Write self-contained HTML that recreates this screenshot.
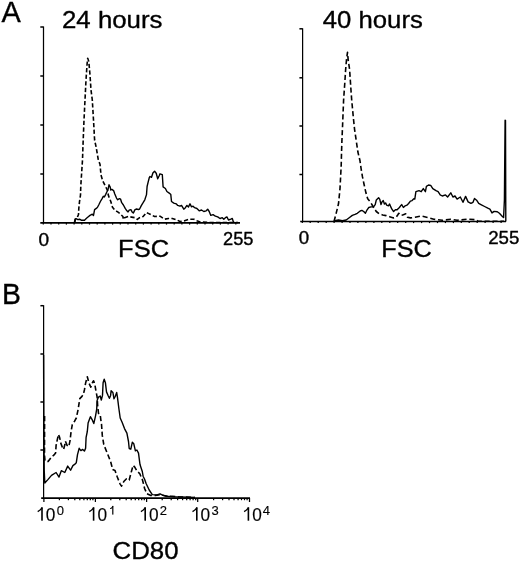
<!DOCTYPE html>
<html><head><meta charset="utf-8"><style>
html,body{margin:0;padding:0;background:#fff;width:520px;height:561px;overflow:hidden}
svg{display:block;will-change:transform}
text{font-family:"Liberation Sans",sans-serif;fill:#000;stroke:#000;stroke-width:0.35;stroke-linejoin:round}
text.sm{stroke-width:0.15}
.ax{stroke:#000;stroke-width:1.25;fill:none}
.sol{stroke:#000;stroke-width:1.4;fill:none;stroke-linejoin:round}
.dash{stroke:#000;stroke-width:1.6;fill:none;stroke-dasharray:4.3 2.3;stroke-linejoin:round}
</style></head><body>
<svg width="520" height="561" viewBox="0 0 520 561">
<line x1="43.5" y1="26.5" x2="43.5" y2="223" class="ax"/><line x1="40.3" y1="27" x2="43.5" y2="27" class="ax" style="stroke-width:1.5"/><line x1="40.3" y1="76" x2="43.5" y2="76" class="ax" style="stroke-width:1.5"/><line x1="40.3" y1="125" x2="43.5" y2="125" class="ax" style="stroke-width:1.5"/><line x1="40.3" y1="174" x2="43.5" y2="174" class="ax" style="stroke-width:1.5"/>
<line x1="40.3" y1="222.8" x2="240" y2="222.8" class="ax" style="stroke-width:1.75"/>
<line x1="302.6" y1="28.3" x2="302.6" y2="221.5" class="ax"/><line x1="299.40000000000003" y1="28.8" x2="302.6" y2="28.8" class="ax" style="stroke-width:1.5"/><line x1="299.40000000000003" y1="77.8" x2="302.6" y2="77.8" class="ax" style="stroke-width:1.5"/><line x1="299.40000000000003" y1="126" x2="302.6" y2="126" class="ax" style="stroke-width:1.5"/><line x1="299.40000000000003" y1="174.5" x2="302.6" y2="174.5" class="ax" style="stroke-width:1.5"/>
<line x1="300.2" y1="221.45" x2="506" y2="221.45" class="ax" style="stroke-width:1.6"/>
<line x1="43.6" y1="305.2" x2="43.6" y2="498.5" class="ax"/><line x1="40.4" y1="305.7" x2="43.6" y2="305.7" class="ax" style="stroke-width:1.5"/><line x1="40.4" y1="354" x2="43.6" y2="354" class="ax" style="stroke-width:1.5"/><line x1="40.4" y1="402" x2="43.6" y2="402" class="ax" style="stroke-width:1.5"/><line x1="40.4" y1="450" x2="43.6" y2="450" class="ax" style="stroke-width:1.5"/>
<line x1="41.2" y1="498.1" x2="250" y2="498.1" class="ax" style="stroke-width:1.6"/>
<line x1="43.9" y1="498" x2="43.9" y2="502" class="ax"/>
<line x1="95.4" y1="498" x2="95.4" y2="502" class="ax"/>
<line x1="146.6" y1="498" x2="146.6" y2="502" class="ax"/>
<line x1="197.7" y1="498" x2="197.7" y2="502" class="ax"/>
<line x1="249.5" y1="498" x2="249.5" y2="502" class="ax"/>
<line x1="43.3" y1="223" x2="43.3" y2="224.6" class="ax"/>
<line x1="51.0" y1="223" x2="51.0" y2="224.6" class="ax"/>
<line x1="58.7" y1="223" x2="58.7" y2="224.6" class="ax"/>
<line x1="66.4" y1="223" x2="66.4" y2="224.6" class="ax"/>
<line x1="74.1" y1="223" x2="74.1" y2="224.6" class="ax"/>
<line x1="81.8" y1="223" x2="81.8" y2="224.6" class="ax"/>
<line x1="89.5" y1="223" x2="89.5" y2="224.6" class="ax"/>
<line x1="97.2" y1="223" x2="97.2" y2="224.6" class="ax"/>
<line x1="104.9" y1="223" x2="104.9" y2="224.6" class="ax"/>
<line x1="112.6" y1="223" x2="112.6" y2="224.6" class="ax"/>
<line x1="120.3" y1="223" x2="120.3" y2="224.6" class="ax"/>
<line x1="128.0" y1="223" x2="128.0" y2="224.6" class="ax"/>
<line x1="135.7" y1="223" x2="135.7" y2="224.6" class="ax"/>
<line x1="143.4" y1="223" x2="143.4" y2="224.6" class="ax"/>
<line x1="151.1" y1="223" x2="151.1" y2="224.6" class="ax"/>
<line x1="158.8" y1="223" x2="158.8" y2="224.6" class="ax"/>
<line x1="166.5" y1="223" x2="166.5" y2="224.6" class="ax"/>
<line x1="174.2" y1="223" x2="174.2" y2="224.6" class="ax"/>
<line x1="181.9" y1="223" x2="181.9" y2="224.6" class="ax"/>
<line x1="189.6" y1="223" x2="189.6" y2="224.6" class="ax"/>
<line x1="197.3" y1="223" x2="197.3" y2="224.6" class="ax"/>
<line x1="205.0" y1="223" x2="205.0" y2="224.6" class="ax"/>
<line x1="212.7" y1="223" x2="212.7" y2="224.6" class="ax"/>
<line x1="220.4" y1="223" x2="220.4" y2="224.6" class="ax"/>
<line x1="228.1" y1="223" x2="228.1" y2="224.6" class="ax"/>
<line x1="235.8" y1="223" x2="235.8" y2="224.6" class="ax"/>
<line x1="302.3" y1="221.5" x2="302.3" y2="223.1" class="ax"/>
<line x1="310.2" y1="221.5" x2="310.2" y2="223.1" class="ax"/>
<line x1="318.2" y1="221.5" x2="318.2" y2="223.1" class="ax"/>
<line x1="326.2" y1="221.5" x2="326.2" y2="223.1" class="ax"/>
<line x1="334.1" y1="221.5" x2="334.1" y2="223.1" class="ax"/>
<line x1="342.1" y1="221.5" x2="342.1" y2="223.1" class="ax"/>
<line x1="350.0" y1="221.5" x2="350.0" y2="223.1" class="ax"/>
<line x1="357.9" y1="221.5" x2="357.9" y2="223.1" class="ax"/>
<line x1="365.9" y1="221.5" x2="365.9" y2="223.1" class="ax"/>
<line x1="373.9" y1="221.5" x2="373.9" y2="223.1" class="ax"/>
<line x1="381.8" y1="221.5" x2="381.8" y2="223.1" class="ax"/>
<line x1="389.8" y1="221.5" x2="389.8" y2="223.1" class="ax"/>
<line x1="397.7" y1="221.5" x2="397.7" y2="223.1" class="ax"/>
<line x1="405.7" y1="221.5" x2="405.7" y2="223.1" class="ax"/>
<line x1="413.6" y1="221.5" x2="413.6" y2="223.1" class="ax"/>
<line x1="421.6" y1="221.5" x2="421.6" y2="223.1" class="ax"/>
<line x1="429.5" y1="221.5" x2="429.5" y2="223.1" class="ax"/>
<line x1="437.5" y1="221.5" x2="437.5" y2="223.1" class="ax"/>
<line x1="445.4" y1="221.5" x2="445.4" y2="223.1" class="ax"/>
<line x1="453.4" y1="221.5" x2="453.4" y2="223.1" class="ax"/>
<line x1="461.3" y1="221.5" x2="461.3" y2="223.1" class="ax"/>
<line x1="469.2" y1="221.5" x2="469.2" y2="223.1" class="ax"/>
<line x1="477.2" y1="221.5" x2="477.2" y2="223.1" class="ax"/>
<line x1="485.1" y1="221.5" x2="485.1" y2="223.1" class="ax"/>
<line x1="493.1" y1="221.5" x2="493.1" y2="223.1" class="ax"/>
<line x1="501.1" y1="221.5" x2="501.1" y2="223.1" class="ax"/>
<line x1="59.4" y1="498.5" x2="59.4" y2="500.2" class="ax"/>
<line x1="68.4" y1="498.5" x2="68.4" y2="500.2" class="ax"/>
<line x1="74.8" y1="498.5" x2="74.8" y2="500.2" class="ax"/>
<line x1="79.8" y1="498.5" x2="79.8" y2="500.2" class="ax"/>
<line x1="83.9" y1="498.5" x2="83.9" y2="500.2" class="ax"/>
<line x1="87.3" y1="498.5" x2="87.3" y2="500.2" class="ax"/>
<line x1="90.3" y1="498.5" x2="90.3" y2="500.2" class="ax"/>
<line x1="92.9" y1="498.5" x2="92.9" y2="500.2" class="ax"/>
<line x1="110.8" y1="498.5" x2="110.8" y2="500.2" class="ax"/>
<line x1="119.8" y1="498.5" x2="119.8" y2="500.2" class="ax"/>
<line x1="126.2" y1="498.5" x2="126.2" y2="500.2" class="ax"/>
<line x1="131.2" y1="498.5" x2="131.2" y2="500.2" class="ax"/>
<line x1="135.3" y1="498.5" x2="135.3" y2="500.2" class="ax"/>
<line x1="138.7" y1="498.5" x2="138.7" y2="500.2" class="ax"/>
<line x1="141.7" y1="498.5" x2="141.7" y2="500.2" class="ax"/>
<line x1="144.3" y1="498.5" x2="144.3" y2="500.2" class="ax"/>
<line x1="162.2" y1="498.5" x2="162.2" y2="500.2" class="ax"/>
<line x1="171.2" y1="498.5" x2="171.2" y2="500.2" class="ax"/>
<line x1="177.6" y1="498.5" x2="177.6" y2="500.2" class="ax"/>
<line x1="182.6" y1="498.5" x2="182.6" y2="500.2" class="ax"/>
<line x1="186.7" y1="498.5" x2="186.7" y2="500.2" class="ax"/>
<line x1="190.1" y1="498.5" x2="190.1" y2="500.2" class="ax"/>
<line x1="193.1" y1="498.5" x2="193.1" y2="500.2" class="ax"/>
<line x1="195.7" y1="498.5" x2="195.7" y2="500.2" class="ax"/>
<line x1="213.6" y1="498.5" x2="213.6" y2="500.2" class="ax"/>
<line x1="222.6" y1="498.5" x2="222.6" y2="500.2" class="ax"/>
<line x1="229.0" y1="498.5" x2="229.0" y2="500.2" class="ax"/>
<line x1="234.0" y1="498.5" x2="234.0" y2="500.2" class="ax"/>
<line x1="238.1" y1="498.5" x2="238.1" y2="500.2" class="ax"/>
<line x1="241.5" y1="498.5" x2="241.5" y2="500.2" class="ax"/>
<line x1="244.5" y1="498.5" x2="244.5" y2="500.2" class="ax"/>
<line x1="247.1" y1="498.5" x2="247.1" y2="500.2" class="ax"/>
<polyline points="74.4,222.6 75.1,221.2 75.4,219.2 76.1,218.2 77.4,217.2 78.5,214.5 78.8,208.5 79.5,201.7 80.5,195.0 80.8,186.0 81.5,175.0 82.5,160.0 83.0,145.0 84.0,120.0 85.0,100.0 86.0,80.0 87.1,63.8 87.7,58.3 88.8,61.5 90.0,75.0 91.0,90.0 92.3,100.0 93.5,120.0 94.6,140.0 96.3,148.0 98.3,160.0 100.0,164.2 101.0,175.0 102.7,180.8 105.0,185.4 107.3,190.0 108.5,195.8 110.8,201.5 112.5,207.3 114.8,210.2 117.7,211.9 120.0,213.6 122.9,216.5 123.4,219.4 124.6,217.7 128.1,216.5 131.5,217.1 135.0,217.7 137.3,219.4 139.6,217.7 143.1,216.5 146.5,212.5 148.8,213.6 150.0,214.2 154.6,216.5 160.0,216.2 164.6,219.2 168.5,218.5 172.3,218.5 176.9,220.0 180.0,221.5 184.6,220.8 189.2,219.2 193.8,219.2 196.9,220.8 200.0,222.0 210.0,222.5 238.0,222.5" class="dash"/>
<polyline points="74.4,222.5 75.1,219.2 76.1,218.6 77.8,219.6 79.5,219.2 81.2,220.2 82.8,220.2 84.5,220.2 86.5,218.2 88.6,216.5 90.0,215.4 92.3,214.2 93.5,215.4 94.6,209.6 96.3,208.4 97.5,207.3 98.7,205.0 100.4,201.5 102.1,198.6 103.3,196.3 104.4,196.9 105.6,194.6 106.7,192.3 107.9,190.0 109.0,184.8 110.2,187.1 110.8,190.0 111.9,189.4 113.6,190.6 114.8,194.0 116.5,198.1 117.7,199.8 119.4,198.6 120.6,199.2 121.7,202.7 123.4,205.0 125.2,208.4 126.9,210.8 128.1,211.9 129.2,210.2 130.9,209.6 132.1,211.9 133.3,213.1 135.0,209.6 136.7,209.0 138.4,209.6 139.6,209.0 141.3,205.6 143.1,202.7 144.8,199.8 146.5,194.6 147.1,186.5 148.2,181.9 149.4,177.3 150.0,176.5 151.5,177.3 153.0,172.7 154.6,171.2 156.2,173.2 157.7,178.8 159.2,175.8 160.0,173.8 162.3,174.6 163.1,186.9 165.4,188.5 166.9,191.5 169.2,193.1 170.8,194.6 171.5,201.5 173.8,203.1 176.2,203.8 177.7,205.4 180.0,206.2 181.5,205.4 183.8,209.2 185.4,207.7 186.9,205.4 188.5,206.9 190.0,203.8 191.5,206.9 193.1,206.2 194.6,207.7 196.9,208.5 199.2,210.8 201.5,210.0 203.8,211.5 206.2,210.8 207.7,209.2 209.2,211.5 210.8,215.4 213.1,214.6 215.4,216.2 217.7,216.9 220.0,218.5 222.3,217.7 223.8,219.2 225.4,217.7 226.9,216.9 228.5,220.0 230.8,219.2 232.3,218.5 233.5,222.3 235.0,222.6" class="sol"/>
<polyline points="333.8,221.3 334.2,220.8 336.2,213.1 338.5,203.8 340.0,188.5 341.2,165.4 341.5,153.8 341.9,141.1 342.5,127.3 343.1,112.3 343.6,100.0 344.3,90.0 344.8,83.0 345.6,70.0 346.6,58.5 347.5,52.3 348.2,60.0 349.6,69.5 350.3,80.0 351.1,91.9 351.7,100.0 352.3,106.5 353.4,118.1 354.6,129.6 356.3,141.1 357.9,152.0 360.0,160.8 361.3,170.0 362.5,176.9 364.2,185.0 366.0,193.1 367.7,198.8 370.6,202.3 374.0,208.1 376.3,211.5 379.2,213.8 382.7,215.0 386.1,215.6 389.6,216.7 393.6,217.9 396.0,217.3 397.7,215.0 398.8,213.3 401.1,215.6 404.0,214.4 405.7,213.8 407.5,217.3 410.4,217.9 415.0,217.3 421.2,216.0 427.5,217.5 433.8,219.2 442.3,220.3 450.8,219.2 457.1,220.3 467.7,219.2 476.2,219.7 478.3,221.3 504.0,221.3" class="dash" style="stroke-dasharray:5.1 2.8"/>
<polyline points="334.6,220.8 338.5,220.0 342.3,220.8 346.2,220.0 349.2,217.7 352.3,215.4 355.0,214.4 357.3,213.3 360.2,211.0 361.9,210.4 363.7,211.5 365.4,213.3 367.1,209.8 368.8,207.5 371.1,206.9 373.5,206.9 375.2,204.6 376.3,200.0 378.6,197.7 379.8,199.4 381.0,204.6 382.1,201.7 383.3,200.6 384.4,204.0 385.6,202.9 386.7,205.2 388.4,205.8 389.6,204.0 390.8,206.9 391.9,209.2 393.6,211.5 395.4,209.8 397.1,209.8 399.4,207.5 400.6,205.8 401.7,204.6 403.4,207.5 405.2,205.8 406.9,205.2 408.6,203.5 410.4,201.1 412.1,200.6 413.8,198.8 414.8,199.1 415.9,191.7 419.0,190.7 421.2,191.7 423.3,188.6 425.4,191.7 426.4,186.4 428.6,185.0 430.7,185.4 432.8,188.6 436.0,190.7 438.1,191.7 440.2,194.9 442.3,196.0 445.5,194.9 447.6,197.0 450.8,192.8 452.9,197.0 455.0,196.0 457.1,199.1 460.3,197.0 463.0,202.3 465.6,196.4 468.1,201.9 470.9,203.4 473.0,202.3 474.5,198.5 476.6,200.2 478.7,203.4 481.4,204.8 484.6,206.5 487.8,208.2 489.9,209.1 492.0,212.9 494.1,211.4 497.3,211.8 499.4,213.3 502.6,216.7 503.6,217.6 504.4,200.0 505.1,120.3 505.5,120.5 505.8,221.5" class="sol"/>
<polyline points="44.6,416.0 44.5,455.0 45.0,461.0 48.1,461.5 51.5,456.9 53.8,455.2 55.6,452.9 56.1,445.4 57.3,439.6 58.5,434.4 59.6,437.3 60.8,443.1 62.5,447.7 63.6,449.4 64.8,444.8 65.4,441.3 67.1,445.4 68.8,446.5 70.0,440.8 71.1,431.5 72.3,424.6 74.6,421.2 76.3,418.0 78.1,409.6 79.8,398.6 81.5,396.9 83.3,394.6 84.4,390.0 85.6,383.1 87.3,376.7 89.0,383.1 90.8,387.1 92.5,382.5 93.6,380.8 94.8,384.2 95.9,390.6 97.1,396.9 97.6,405.0 98.5,413.3 100.2,414.4 100.8,419.6 101.5,424.0 102.3,435.4 103.8,444.6 106.9,452.3 108.5,456.2 110.8,462.3 112.7,469.5 115.0,470.4 117.3,477.0 120.0,483.8 121.5,486.2 123.8,481.5 126.5,478.8 129.2,480.0 131.5,471.2 133.1,465.4 134.6,466.9 136.8,470.7 139.8,473.8 142.5,480.0 144.6,488.5 146.9,493.8 150.8,495.4 155.4,495.4 161.5,494.6 166.2,496.2 172.3,496.2 178.5,496.9 195.0,497.5" class="dash" style="stroke-dasharray:5.2 2.7"/>
<polyline points="43.6,355.0 43.8,420.0 44.2,470.0 44.8,483.0 48.1,479.4 51.5,475.4 56.1,472.5 59.0,477.1 61.3,470.7 64.8,472.5 67.7,466.1 70.6,470.2 72.9,465.6 74.6,464.4 76.3,462.7 77.5,454.6 79.2,448.3 80.9,450.6 82.7,449.4 84.4,451.1 85.6,448.3 86.1,437.3 87.3,431.5 88.1,423.1 90.4,416.7 92.1,419.6 93.8,423.6 95.6,415.6 96.7,409.2 97.1,400.6 98.5,397.1 100.2,396.0 101.3,400.0 102.5,395.4 103.1,382.7 104.2,379.2 105.4,382.7 106.5,391.9 108.3,396.0 109.4,398.3 110.6,395.4 111.1,390.8 112.9,392.5 114.0,398.8 115.2,396.5 116.7,392.5 117.5,397.7 118.8,408.0 120.2,418.0 122.2,422.5 124.5,428.6 126.9,433.1 128.5,441.5 129.2,448.5 130.8,449.2 132.3,442.3 133.8,443.8 135.4,450.8 136.9,450.0 138.5,453.1 140.0,464.6 140.8,466.9 142.3,471.5 143.1,476.2 144.6,479.2 146.2,483.8 149.2,490.0 152.3,494.6 156.9,494.9 160.0,493.8 163.1,495.4 167.7,496.2 173.8,496.9 180.0,496.9 195.0,497.5" class="sol"/>
<text x="1.5" y="21.7" font-size="30.3" textLength="19.3" lengthAdjust="spacingAndGlyphs">A</text>
<text x="62" y="27.7" font-size="24" textLength="100.5" lengthAdjust="spacingAndGlyphs">24 hours</text>
<text x="322.8" y="27.7" font-size="24" textLength="100" lengthAdjust="spacingAndGlyphs">40 hours</text>
<text x="38.5" y="245.6" font-size="17.5" textLength="10.6" lengthAdjust="spacingAndGlyphs">0</text>
<text x="223" y="245.2" font-size="17.5" textLength="30.5" lengthAdjust="spacingAndGlyphs">255</text>
<text x="118.1" y="257.4" font-size="24" textLength="51" lengthAdjust="spacingAndGlyphs">FSC</text>
<text x="298.7" y="244.2" font-size="17.5" textLength="10.4" lengthAdjust="spacingAndGlyphs">0</text>
<text x="488.2" y="243.7" font-size="17.5" textLength="31.2" lengthAdjust="spacingAndGlyphs">255</text>
<text x="381.3" y="257.4" font-size="24" textLength="50.5" lengthAdjust="spacingAndGlyphs">FSC</text>
<text x="2.0" y="304.2" font-size="29.5" textLength="18.9" lengthAdjust="spacingAndGlyphs">B</text>
<rect x="41.20" y="507.30" width="1.60" height="13.40" fill="#000"/><path d="M42.16,507.70 Q40.60,510.20 37.70,511.60" stroke="#000" stroke-width="1.5" fill="none"/>
<text class="sm" x="45.8" y="520.7" font-size="18.5" textLength="9.6" lengthAdjust="spacingAndGlyphs">0</text>
<text class="sm" x="56.7" y="514.7" font-size="13">0</text>
<rect x="92.80" y="507.30" width="1.60" height="13.40" fill="#000"/><path d="M93.76,507.70 Q92.20,510.20 89.30,511.60" stroke="#000" stroke-width="1.5" fill="none"/>
<text class="sm" x="97.4" y="520.7" font-size="18.5" textLength="9.6" lengthAdjust="spacingAndGlyphs">0</text>
<rect x="112.20" y="505.90" width="1.20" height="8.70" fill="#000"/><path d="M112.92,506.30 Q111.60,508.80 110.10,508.50" stroke="#000" stroke-width="1.1" fill="none"/>
<rect x="144.40" y="507.30" width="1.60" height="13.40" fill="#000"/><path d="M145.36,507.70 Q143.80,510.20 140.90,511.60" stroke="#000" stroke-width="1.5" fill="none"/>
<text class="sm" x="149.0" y="520.7" font-size="18.5" textLength="9.6" lengthAdjust="spacingAndGlyphs">0</text>
<text class="sm" x="159.8" y="514.7" font-size="13">2</text>
<rect x="196.00" y="507.30" width="1.60" height="13.40" fill="#000"/><path d="M196.96,507.70 Q195.40,510.20 192.50,511.60" stroke="#000" stroke-width="1.5" fill="none"/>
<text class="sm" x="200.60000000000002" y="520.7" font-size="18.5" textLength="9.6" lengthAdjust="spacingAndGlyphs">0</text>
<text class="sm" x="211.6" y="514.7" font-size="13">3</text>
<rect x="247.60" y="507.30" width="1.60" height="13.40" fill="#000"/><path d="M248.56,507.70 Q247.00,510.20 244.10,511.60" stroke="#000" stroke-width="1.5" fill="none"/>
<text class="sm" x="252.2" y="520.7" font-size="18.5" textLength="9.6" lengthAdjust="spacingAndGlyphs">0</text>
<text class="sm" x="262.8" y="514.7" font-size="13">4</text>
<text x="112.5" y="559" font-size="24" textLength="66" lengthAdjust="spacingAndGlyphs">CD80</text>
</svg>
</body></html>
